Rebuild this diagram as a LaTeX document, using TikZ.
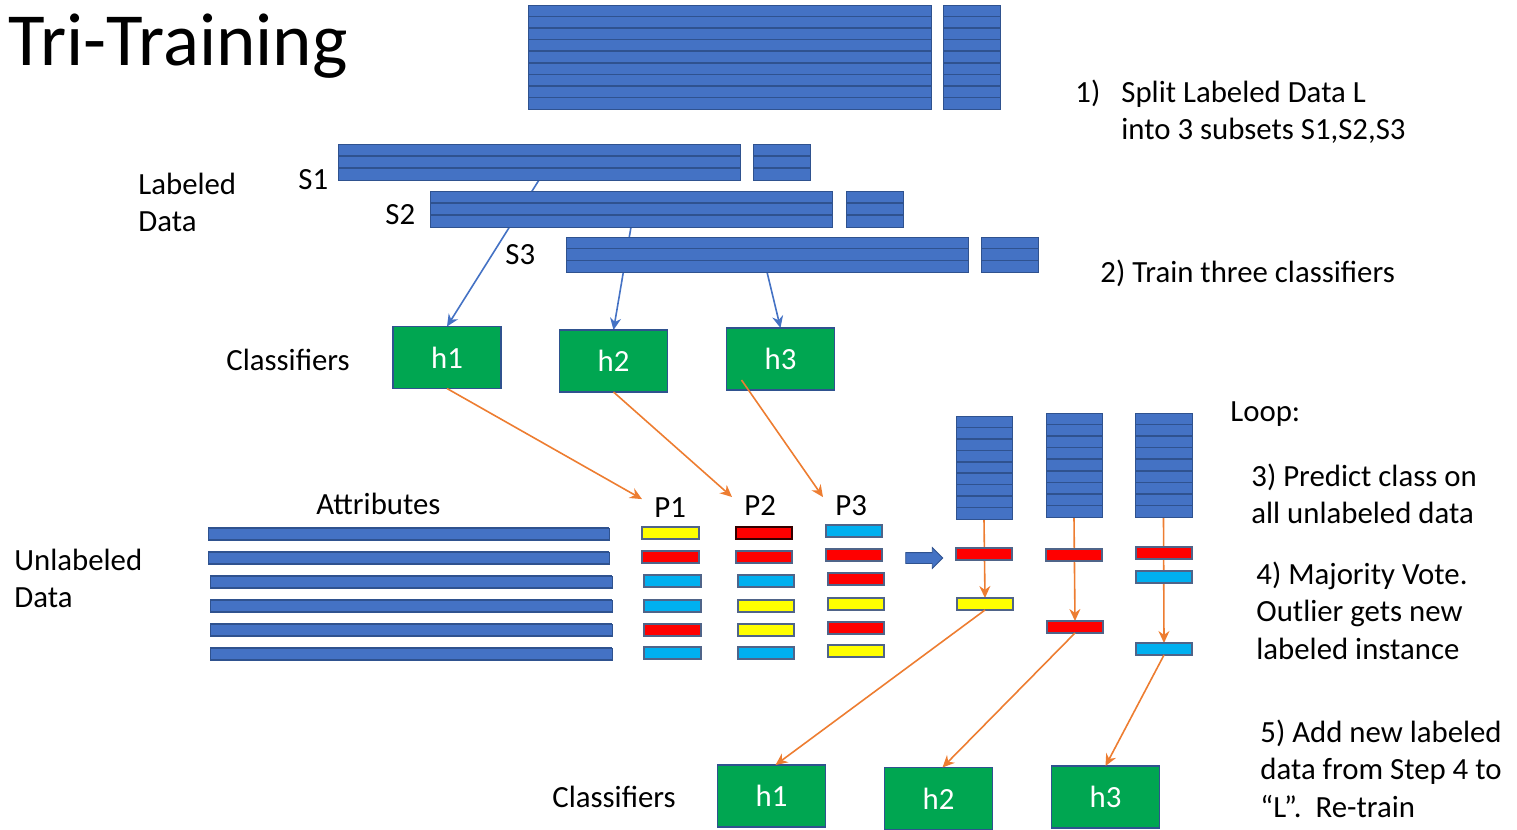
\documentclass[tikz,border=0pt]{standalone}
\usepackage{fontspec}
\setmainfont{Carlito}
\usetikzlibrary{fit,calc,arrows.meta,shapes.arrows,backgrounds}
\definecolor{barblue}{HTML}{4472C4}
\definecolor{lineblue}{HTML}{2F528F}
\definecolor{clsgreen}{HTML}{00A651}
\definecolor{arrorange}{HTML}{ED7D31}
\definecolor{cyanbar}{HTML}{00B0F0}
\definecolor{yellowbar}{HTML}{FFFF00}
\definecolor{redbar}{HTML}{FF0000}
\tikzset{
 every node/.style={font=\fontsize{15.4}{18.75}\selectfont},
 blk/.style={draw=lineblue, fill=barblue, line width=0.5pt, inner sep=0pt, outer sep=0pt},
 rowline/.style={draw=lineblue, line width=0.8pt},
 cbar/.style={draw=lineblue!60!gray, line width=0.6pt, inner sep=0pt, outer sep=0pt},
 cls/.style={draw=lineblue, fill=clsgreen, line width=0.6pt, inner sep=0pt, outer sep=0pt, text=white, minimum width=54pt, minimum height=31pt},
 lbl/.style={anchor=base west, inner sep=0pt},
 blarrow/.style={draw=barblue, line width=0.8pt, -{Stealth[length=6pt,width=5.5pt]}},
 orarrow/.style={draw=arrorange, line width=0.8pt, -{Stealth[length=6pt,width=5.5pt]}},
}
\newcommand\mlines[1]{\begin{tabular}[t]{@{}l@{}}#1\end{tabular}}
\newcommand\stk[6]{%
  \node[blk, fit={(#2,#3) (#4,#5)}] (#1) {};
  \pgfmathtruncatemacro\nrm{#6-1}%
  \foreach \k in {1,...,\nrm}{%
    \draw[rowline] ($(#1.north west)!{\k/#6}!(#1.south west)$) -- ($(#1.north east)!{\k/#6}!(#1.south east)$);
  }%
}
\newcommand\colbar[6]{\node[cbar, fill=#6, fit={(#2,#3) (#4,#5)}] (#1) {};}
\begin{document}
\begin{tikzpicture}[x=0.5pt,y=-0.5pt]
\useasboundingbox (0,0) rectangle (1517,830);
% title
\node[lbl, font=\fontsize{37.5}{42}\selectfont] (title) at (8,65) {Tri-Training};
% labeled data blocks
\stk{L}{528}{5}{931}{109}{9}
\stk{Lc}{943}{5}{1000}{109}{9}
\stk{S1}{338}{144}{740}{180}{3}
\stk{S1c}{753}{144}{810}{180}{3}
\stk{S2}{430}{191}{832}{227}{3}
\stk{S2c}{846}{191}{903}{227}{3}
\stk{S3}{566}{237}{968}{272}{3}
\stk{S3c}{981}{237}{1038}{272}{3}
% labels
\node[lbl] (labeled) at (138,194) {\mlines{Labeled\\Data}};
\node[lbl] (s1l) at (298,189) {S1};
\node[lbl] (s2l) at (385,224) {S2};
\node[lbl] (s3l) at (505,264) {S3};
\node[lbl] (cl1) at (226,370) {Classifiers};
% classifiers
\node[cls] (h1) at (447,357.5) {h1};
\node[cls] (h2) at (613.5,361) {h2};
\node[cls] (h3) at (780.5,359) {h3};
% unlabeled
\node[lbl] (attr) at (316,514) {Attributes};
\node[lbl] (unl) at (14,570) {\mlines{Unlabeled\\Data}};
\stk{U1}{208}{528}{609}{540}{1}
\stk{U2}{208}{552}{609}{564}{1}
\stk{U3}{210}{576}{612}{588}{1}
\stk{U4}{210}{600}{612}{612}{1}
\stk{U5}{210}{624}{612}{636}{1}
\stk{U6}{210}{648}{612}{660}{1}
% predictions
\node[lbl] (P1) at (654,517) {P1};
\node[lbl] (P2) at (744,515) {P2};
\node[lbl] (P3) at (835,515) {P3};
\colbar{a1}{642}{527}{699}{539}{yellowbar}
\colbar{a2}{642}{551}{699}{563}{redbar}
\colbar{a3}{644}{575}{701}{587}{cyanbar}
\colbar{a4}{644}{600}{701}{612}{cyanbar}
\colbar{a5}{644}{624}{701}{636}{redbar}
\colbar{a6}{644}{647}{701}{659}{cyanbar}
\node[cbar, fill=redbar, draw=black!80!red, line width=1pt, fit={(736,527) (792,539)}] (b1) {};
\colbar{b2}{736}{551}{792}{563}{redbar}
\colbar{b3}{738}{575}{794}{587}{cyanbar}
\colbar{b4}{738}{600}{794}{612}{yellowbar}
\colbar{b5}{738}{624}{794}{636}{yellowbar}
\colbar{b6}{738}{647}{794}{659}{cyanbar}
\colbar{c1}{826}{525}{882}{537}{cyanbar}
\colbar{c2}{826}{549}{882}{561}{redbar}
\colbar{c3}{828}{573}{884}{585}{redbar}
\colbar{c4}{828}{598}{884}{610}{yellowbar}
\colbar{c5}{828}{622}{884}{634}{redbar}
\colbar{c6}{828}{645}{884}{657}{yellowbar}
\node[single arrow, fill=barblue, draw=lineblue, line width=0.4pt, minimum height=18.5pt, inner sep=2.5pt, single arrow head extend=2.5pt, single arrow head indent=0pt, outer sep=0pt] (barrow) at (921.5,558) {};
% vote columns
\stk{V1}{956}{416}{1012}{519}{9}
\stk{V2}{1046}{413}{1102}{517}{9}
\stk{V3}{1135}{413}{1192}{517}{9}
\colbar{r1a}{956}{548}{1012}{560}{redbar}
\colbar{y1b}{957}{598}{1013}{610}{yellowbar}
\colbar{r2a}{1046}{549}{1102}{561}{redbar}
\colbar{r2b}{1047}{621}{1103}{633}{redbar}
\colbar{r3a}{1136}{547}{1192}{559}{redbar}
\colbar{c3a}{1136}{571}{1192}{583}{cyanbar}
\colbar{c3b}{1136}{643}{1192}{655}{cyanbar}
% bottom classifiers
\node[lbl] (cl2) at (552,807) {Classifiers};
\node[cls] (H1) at (771.5,796) {h1};
\node[cls] (H2) at (938.5,798.5) {h2};
\node[cls] (H3) at (1105.5,797) {h3};
% right text
\node[lbl] (t1) at (1075,102) {\mlines{\makebox[23pt][l]{1)}Split Labeled Data L\\\hspace*{23pt}into 3 subsets S1,S2,S3}};
\node[lbl] (t2) at (1100,282) {2) Train three classifiers};
\node[lbl] (t3) at (1230,421) {Loop:};
\node[lbl] (t4) at (1251,486) {\mlines{3) Predict class on\\all unlabeled data}};
\node[lbl] (t5) at (1256,584) {\mlines{4) Majority Vote.\\Outlier gets new\\labeled instance}};
\node[lbl] (t6) at (1260,742) {\mlines{5) Add new labeled\\data from Step 4 to\\“L”.\ \ Re-train}};
% connectors
\begin{scope}[on background layer]
\draw[blarrow] (S1.south) -- (h1.north);
\draw[blarrow] (S2.south) -- (h2.north);
\draw[blarrow] (S3.south) -- (h3.north);
\draw[orarrow] (V1.south) -- (y1b.north);
\draw[orarrow] (V2.south) -- (r2b.north);
\draw[orarrow] (V3.south) -- (c3b.north);
\end{scope}
\draw[orarrow] (h1.south) -- ([xshift=-6pt,yshift=4pt]P1.west);
\draw[orarrow] (h2.south) -- ([xshift=-6pt,yshift=4pt]P2.west);
\draw[orarrow] ($(h3.south west)+(15,-10)$) -- ([xshift=-6pt,yshift=4pt]P3.west);
\draw[orarrow] (y1b.south) -- ([xshift=2pt]H1.north);
\draw[orarrow] (r2b.south) -- ([xshift=2pt]H2.north);
\draw[orarrow] (c3b.south) -- (H3.north);
\end{tikzpicture}
\end{document}
